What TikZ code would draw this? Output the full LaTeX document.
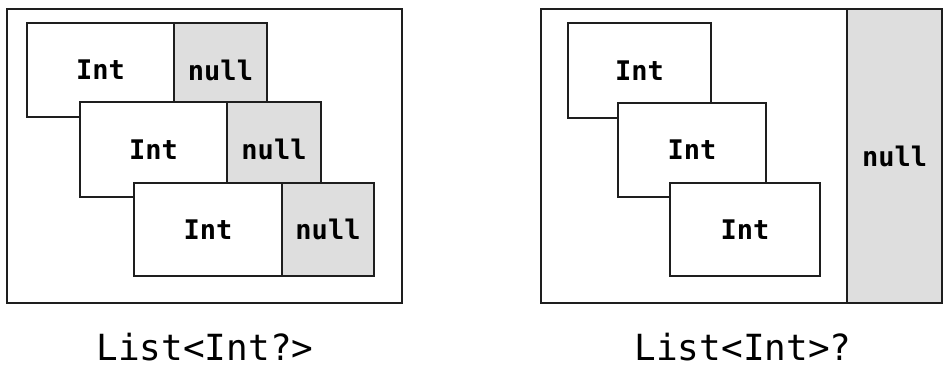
\documentclass[tikz,border=0pt]{standalone}
\usepackage{fontspec}
\newfontfamily\monofont{DejaVu Sans Mono}
\definecolor{nullgray}{HTML}{DEDEDE}
\definecolor{linegray}{HTML}{1E1E1E}
\tikzset{
  panel/.style={draw=linegray, line width=2pt, fill=white, anchor=north west, inner sep=0pt, outer sep=0pt},
  intcell/.style={draw=linegray, line width=2pt, fill=white, anchor=north west, inner sep=0pt, outer sep=0pt,
    font=\monofont\bfseries\fontsize{27}{30}\selectfont},
  nullcell/.style={draw=linegray, line width=2pt, fill=nullgray, anchor=north west, inner sep=0pt, outer sep=0pt,
    font=\monofont\bfseries\fontsize{27}{30}\selectfont},
  caption/.style={anchor=base, inner sep=0pt, text depth=0pt, font=\monofont\fontsize{36}{40}\selectfont}
}
\begin{document}
\begin{tikzpicture}[x=1pt,y=-1pt]
\useasboundingbox (0,0) rectangle (947,367);
% left panel
\node[panel, minimum width=395pt, minimum height=294pt] (frameL) at (7,9) {};
\node[intcell, minimum width=147pt, minimum height=94pt] (l1i) at (27,23) {Int};
\node[nullcell, minimum width=93pt, minimum height=94pt] (l1n) at (174,23) {null};
\node[intcell, minimum width=147pt, minimum height=95pt] (l2i) at (80,102) {Int};
\node[nullcell, minimum width=94pt, minimum height=95pt] (l2n) at (227,102) {null};
\node[intcell, minimum width=148pt, minimum height=93pt] (l3i) at (134,183) {Int};
\node[nullcell, minimum width=92pt, minimum height=93pt] (l3n) at (282,183) {null};
% right panel
\node[panel, minimum width=401pt, minimum height=294pt] (frameR) at (541,9) {};
\node[nullcell, minimum width=95pt, minimum height=294pt] (rnull) at (847,9) {null};
\node[intcell, minimum width=143pt, minimum height=95pt] (r1) at (568,23) {Int};
\node[intcell, minimum width=148pt, minimum height=94pt] (r2) at (618,103) {Int};
\node[intcell, minimum width=150pt, minimum height=93pt] (r3) at (670,183) {Int};
% captions
\node[caption] (capL) at (205,360) {List<Int?>};
\node[caption] (capR) at (743,360) {List<Int>?};
\end{tikzpicture}
\end{document}
